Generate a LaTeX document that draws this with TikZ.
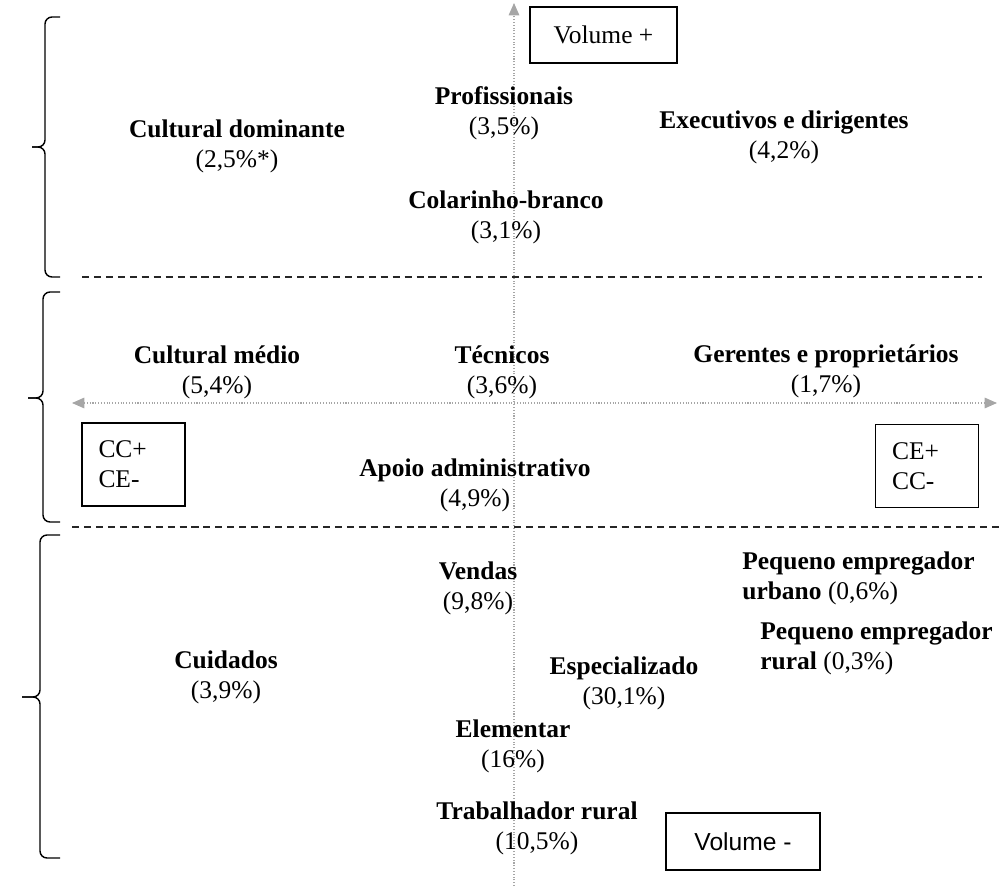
\documentclass[tikz,border=0pt]{standalone}
\usepackage{fontspec}
\setmainfont{Liberation Serif}
\newfontfamily\semserifa{Liberation Sans}
\usetikzlibrary{arrows.meta}

\begin{document}
\begin{tikzpicture}[x=0.02cm, y=-0.02cm,
    font=\fontsize{14.5}{17}\selectfont,
    classe/.style={align=center, inner sep=0pt},
    caixa/.style={draw, line width=0.8pt, align=left, text width=1.4cm,
                  inner xsep=0.33cm, minimum height=1.66cm},
    volbox/.style={draw, line width=0.8pt, align=center},
    eixo/.style={gray!70, densely dotted, line width=0.6pt},
    divisa/.style={gray!30!black, line width=0.8pt, dash pattern=on 4pt off 2.8pt},
    chave/.style={line width=0.8pt, rounded corners=4pt}
  ]
    \useasboundingbox (0,0) rectangle (1002,890);
    \coordinate (topo) at (514,3);
    \coordinate (base) at (514,886);
    \coordinate (esq) at (72,403);
    \coordinate (dir) at (997,403);
    \draw[eixo, -{Triangle[length=7pt, width=6pt]}] (base) -- (topo);
    \draw[eixo, {Triangle[length=7pt, width=6pt]}-{Triangle[length=7pt, width=6pt]}] (esq) -- (dir);
    \draw[divisa] (82,277) -- (982,277);
    \draw[divisa] (72,527) -- (1000,527);
    \foreach \x/\t/\m/\b/\p in {45/17/147/277/32, 43/292/398/522/28, 40/535/697/858/22} {
      \draw[chave] (60,\t) -- (\x,\t) -- (\x,\m) -- (\p,\m);
      \draw[chave] (\p,\m) -- (\x,\m) -- (\x,\b) -- (60,\b);
    }
    \node[volbox, minimum width=2.94cm, minimum height=1.12cm] (volmais) at (603.5,35) {Volume +};
    \node[volbox, minimum width=3.08cm, minimum height=1.14cm, font=\semserifa\fontsize{14}{17}\selectfont] (volmenos) at (743,841.5) {Volume -};
    \node[caixa] (ccmais) at (133.5,464.5) {CC+\\CE-};
    \node[caixa] (cemais) at (927,466) {CE+\\CC-};
    \node[classe] (culturaldom) at (237,146) {\textbf{Cultural dominante}\\(2,5\%*)};
    \node[classe] (profissionais) at (504,113) {\textbf{Profissionais}\\(3,5\%)};
    \node[classe] (executivos) at (784,137) {\textbf{Executivos e dirigentes}\\(4,2\%)};
    \node[classe] (colarinho) at (506,217) {\textbf{Colarinho-branco}\\(3,1\%)};
    \node[classe] (culturalmed) at (217,372) {\textbf{Cultural médio}\\(5,4\%)};
    \node[classe] (tecnicos) at (502,372) {\textbf{Técnicos}\\(3,6\%)};
    \node[classe] (gerentes) at (826,371) {\textbf{Gerentes e proprietários}\\(1,7\%)};
    \node[classe] (apoio) at (475,485) {\textbf{Apoio administrativo}\\(4,9\%)};
    \node[classe] (vendas) at (478,588) {\textbf{Vendas}\\(9,8\%)};
    \node[classe] (cuidados) at (226,677) {\textbf{Cuidados}\\(3,9\%)};
    \node[classe] (especializado) at (624,683) {\textbf{Especializado}\\(30,1\%)};
    \node[classe] (elementar) at (513,746) {\textbf{Elementar}\\(16\%)};
    \node[classe] (trabalhador) at (537,828) {\textbf{Trabalhador rural}\\(10,5\%)};
    \node[classe, align=left, anchor=west] (pequenourb) at (742,578) {\textbf{Pequeno empregador}\\\textbf{urbano} (0,6\%)};
    \node[classe, align=left, anchor=west] (pequenorur) at (760,648) {\textbf{Pequeno empregador}\\\textbf{rural} (0,3\%)};
  \end{tikzpicture}
\end{document}
